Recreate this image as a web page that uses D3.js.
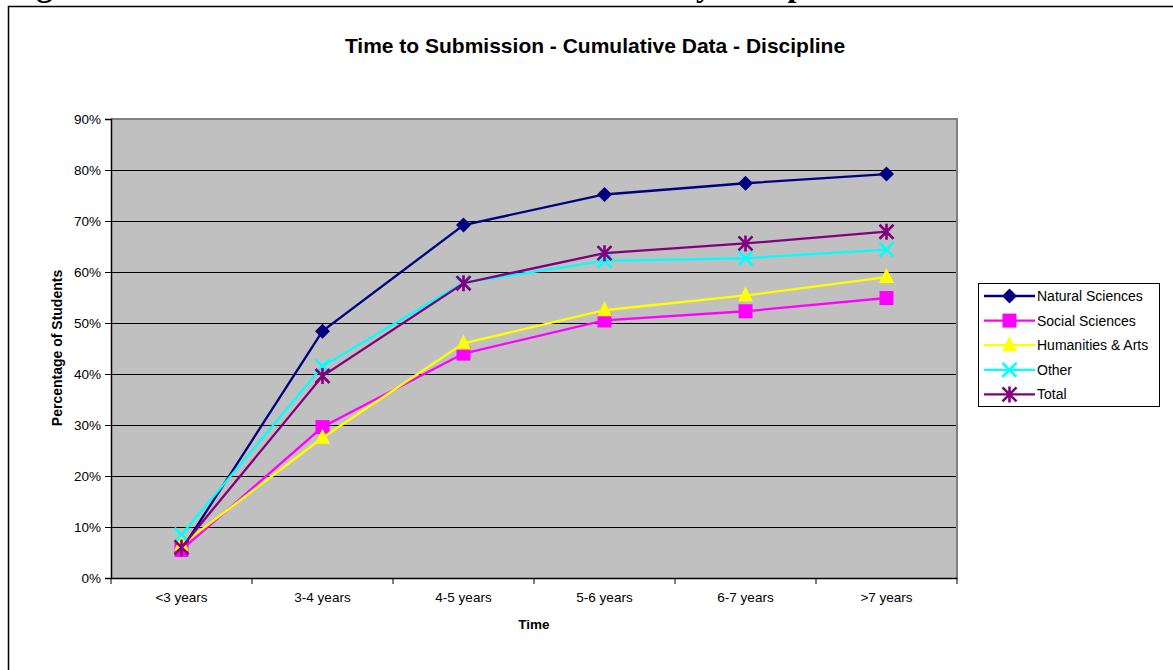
<!DOCTYPE html>
<html><head><meta charset="utf-8">
<script src="https://cdn.jsdelivr.net/npm/d3@7"></script>
<style>body{margin:0;background:#fff}svg{display:block}text{font-family:Arial,"Liberation Sans",sans-serif}</style>
</head><body>
<svg id="c" width="1173" height="670"></svg>
<script>
const categories = ["<3 years","3-4 years","4-5 years","5-6 years","6-7 years",">7 years"];
const seriesNames = ["Natural Sciences","Social Sciences","Humanities & Arts","Other","Total"];
const naturalSciences = [5.5, 48.4, 69.2, 75.2, 77.4, 79.2];
const socialSciences  = [5.5, 29.6, 44.0, 50.5, 52.3, 54.9];
const humanitiesArts  = [6.5, 27.5, 46.0, 52.5, 55.4, 59.0];
const other           = [8.5, 41.5, 57.9, 62.2, 62.7, 64.4];
const total           = [6.0, 39.6, 57.8, 63.7, 65.6, 67.9];
const yTicks = [0,10,20,30,40,50,60,70,80,90];
const colors = ["#000080","#FF00FF","#FFFF00","#00FFFF","#800080"];
const markers = ["diamond","square","triangle","x","star"];
const seriesValues = [naturalSciences, socialSciences, humanitiesArts, other, total];

const svg = d3.select("#c");
// outer frame and clipped heading (the reference crops it at the top edge)
svg.append("text").attr("x",8).attr("y",-4)
  .style("font-family","'Liberation Serif','Times New Roman',serif").style("font-weight","bold").style("font-size","32px")
  .text("Figure 6: Time to Submission - Cumulative Data by Discipline");
svg.append("rect").attr("x",8.5).attr("y",6.5).attr("width",1200).attr("height",700)
  .attr("fill","none").attr("stroke","#000").attr("stroke-width",1.5);

const L=111, R=957, T=119, B=578;
const x = d3.scaleBand().domain(categories).range([L,R]);
const y = d3.scaleLinear().domain([0,90]).range([B,T]);

svg.append("rect").attr("x",L).attr("y",T).attr("width",R-L).attr("height",B-T).attr("fill","#C0C0C0");
svg.append("g").selectAll("line").data(yTicks.filter(d=>d>0&&d<90)).join("line")
  .attr("x1",L).attr("x2",R).attr("y1",d=>Math.round(y(d))+0.5).attr("y2",d=>Math.round(y(d))+0.5)
  .attr("stroke","#000").attr("stroke-width",1);
svg.append("path").attr("d",`M${L},${T}H${R}V${B}`).attr("fill","none").attr("stroke","#808080").attr("stroke-width",2);

// y axis
const yAxis = d3.axisLeft(y).tickValues(yTicks).tickFormat(d=>d+"%").tickSize(6).tickPadding(4);
const gy = svg.append("g").attr("transform",`translate(${L},0)`).call(yAxis);
gy.select(".domain").attr("stroke","#000").attr("stroke-width",1.5);
gy.selectAll("text").style("font-size","13.5px").attr("fill","#000");
// x axis
const xAxis = d3.axisBottom(x).tickSize(0).tickPadding(14);
const gx = svg.append("g").attr("transform",`translate(0,${B})`).call(xAxis);
gx.select(".domain").attr("stroke","#000").attr("stroke-width",1.5);
gx.selectAll("text").style("font-size","13.5px").attr("fill","#000");
gx.selectAll("line.sep").data(d3.range(categories.length+1)).join("line").attr("class","sep")
  .attr("x1",i=>L+i*x.step()).attr("x2",i=>L+i*x.step()).attr("y1",0).attr("y2",6).attr("stroke","#000");

svg.append("text").attr("x",595).attr("y",53).attr("text-anchor","middle")
  .style("font-size","21px").style("font-weight","bold").text("Time to Submission - Cumulative Data - Discipline");
svg.append("text").attr("x",534).attr("y",629).attr("text-anchor","middle")
  .style("font-size","13.5px").style("font-weight","bold").text("Time");
svg.append("text").attr("transform","translate(62,348) rotate(-90)").attr("text-anchor","middle")
  .style("font-size","14px").style("font-weight","bold").text("Percentage of Students");

function drawMarker(g, type, color, cx, cy) {
  if (type==="diamond") g.append("path").attr("d",`M${cx},${cy-7.5}L${cx+7.5},${cy}L${cx},${cy+7.5}L${cx-7.5},${cy}Z`).attr("fill",color);
  else if (type==="square") g.append("rect").attr("x",cx-7).attr("y",cy-7).attr("width",14).attr("height",14).attr("fill",color);
  else if (type==="triangle") g.append("path").attr("d",`M${cx},${cy-9}L${cx+7.5},${cy+6}L${cx-7.5},${cy+6}Z`).attr("fill",color);
  else if (type==="x") g.append("path").attr("d",`M${cx-7},${cy-7}L${cx+7},${cy+7}M${cx+7},${cy-7}L${cx-7},${cy+7}`).attr("stroke",color).attr("stroke-width",2.6);
  else if (type==="star") g.append("path").attr("d",`M${cx-7},${cy-7}L${cx+7},${cy+7}M${cx+7},${cy-7}L${cx-7},${cy+7}M${cx},${cy-8}V${cy+8}`).attr("stroke",color).attr("stroke-width",2.6);
}

const line = d3.line().x((d,i)=>x(categories[i])+x.bandwidth()/2).y(d=>y(d));
seriesValues.forEach((vals,si)=>{
  const g = svg.append("g");
  g.append("path").datum(vals).attr("d",line).attr("fill","none").attr("stroke",colors[si]).attr("stroke-width",2.3);
  vals.forEach((v,i)=>drawMarker(g, markers[si], colors[si], x(categories[i])+x.bandwidth()/2, y(v)));
});

// legend
const lg = svg.append("g");
lg.append("rect").attr("x",978.5).attr("y",283.5).attr("width",181).attr("height",123).attr("fill","#fff").attr("stroke","#000").attr("stroke-width",1);
seriesNames.forEach((n,i)=>{
  const cy = 296 + i*24.6;
  lg.append("line").attr("x1",984).attr("x2",1035).attr("y1",cy).attr("y2",cy).attr("stroke",colors[i]).attr("stroke-width",2.3);
  drawMarker(lg, markers[i], colors[i], 1009.5, cy);
  lg.append("text").attr("x",1037).attr("y",cy+5).style("font-size","14px").text(n);
});
</script>
</body></html>
